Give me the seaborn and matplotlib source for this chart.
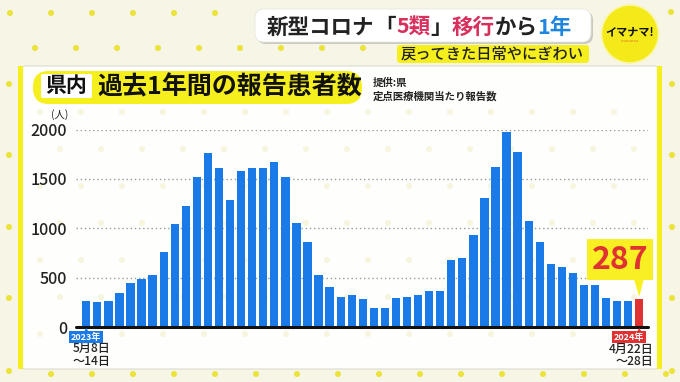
import numpy as np
import pandas as pd
import matplotlib
matplotlib.use("Agg")
import matplotlib.pyplot as plt
import seaborn as sns
from matplotlib.patches import FancyBboxPatch, Rectangle, Ellipse, Circle, Polygon
from matplotlib.transforms import Affine2D, ScaledTranslation

# ---------------- data ----------------
week_start = pd.date_range("2023-05-08", periods=51, freq="7D").strftime("%Y-%m-%d").tolist()
cases = [259, 249, 266, 343, 441, 488, 529, 761, 1044, 1226,
         1522, 1758, 1613, 1283, 1576, 1606, 1609, 1670, 1519, 1057,
         865, 529, 407, 300, 320, 283, 189, 192, 296, 303,
         320, 360, 364, 680, 694, 929, 1310, 1620, 1970, 1774,
         1071, 859, 633, 603, 545, 421, 428, 296, 263, 263,
         287]
kind = ["past"] * (len(cases) - 1) + ["latest"]
y_ticks = [0, 500, 1000, 1500, 2000]
first_label = ["2023年", "5月8日", "～14日"]
last_label = ["2024年", "4月22日", "～28日"]
latest_value_label = "287"

BLUE = "#1a7be8"
RED = "#e03232"
YELLOW = "#f6ef1e"
DARK = "#222222"
PINK = "#d8305c"
TBLUE = "#1f86e0"

sns.set_style("white")
plt.rcParams["font.family"] = ["Noto Sans CJK JP", "DejaVu Sans"]

W, H = 680, 382
fig = plt.figure(figsize=(W / 100, H / 100), dpi=100)
fig.patch.set_facecolor("#f6f5e6")

# ---------------- background / decoration axes (pixel coords, y down) ----------------
bg = fig.add_axes([0, 0, 1, 1], zorder=0)
bg.set_xlim(0, W)
bg.set_ylim(H, 0)
bg.axis("off")

DOT = "#ebe33a"
def dot(x, y, c=DOT, r=3.0):
    bg.add_patch(Circle((x, y), r, color=c, lw=0, zorder=1))

for i in range(6):
    dot(10 + 41 * i, 13)
for i in range(9):
    dot(35 + 41 * i, 48)
dot(671, 12)
for y in [84, 155, 227, 298, 371]:
    dot(9, y)
    dot(672, y)
for i in range(16):
    dot(51 + 41 * i, 374)

# panel
bg.add_patch(FancyBboxPatch((20, 66), 640, 303, boxstyle="round,pad=0,rounding_size=6",
                            fc="#fefefc", ec="#dcdcd0", lw=0.8, zorder=2))
bg.add_patch(Rectangle((17.5, 66), 5, 303, fc=YELLOW, ec="none", zorder=3))
bg.add_patch(Rectangle((657, 66), 5, 303, fc=YELLOW, ec="none", zorder=3))
# faint texture dots in panel
for r_i, yy in enumerate(range(112, 360, 37)):
    off = 0 if r_i % 2 == 0 else 20
    for xx in range(40 + off, 650, 41):
        bg.add_patch(Circle((xx, yy), 3, color="#f7f5de", lw=0, zorder=2.5))

# title box
bg.add_patch(FancyBboxPatch((257, 11), 336, 33, boxstyle="round,pad=0,rounding_size=9",
                            fc="#c9c9c0", ec="none", zorder=4))
bg.add_patch(FancyBboxPatch((255, 9), 336, 33, boxstyle="round,pad=0,rounding_size=9",
                            fc="white", ec="#e8e8e0", lw=0.6, zorder=5))
segs = [("新型コロナ", DARK), ("「", DARK), ("5類", PINK), ("」", DARK),
        ("移行", PINK), ("から", DARK), ("1年", TBLUE)]
t = bg.text(267, 34, segs[0][0], color=segs[0][1], fontsize=15.5, weight="bold",
            ha="left", va="baseline", zorder=6)
for s, c in segs[1:]:
    t = bg.annotate(s, xy=(1, 0), xycoords=t, ha="left", va="bottom", color=c,
                    fontsize=15.5, weight="bold", zorder=6)

# subtitle
bg.add_patch(FancyBboxPatch((397, 45), 192, 18, boxstyle="round,pad=0,rounding_size=3",
                            fc=YELLOW, ec="none", zorder=6))
bg.text(492, 54.5, "戻ってきた日常やにぎわい", color=DARK, fontsize=11, ha="center",
        va="center", weight="medium", zorder=7)

# logo
bg.add_patch(Ellipse((630, 34), 57, 58, fc="#f4ea1a", ec="#fbf6a0", lw=1.2, zorder=6))
bg.text(630, 32, "イマナマ!", fontsize=8, weight="bold", color="#111", ha="center",
        va="center", zorder=7)
bg.text(630, 41, "imanama", fontsize=3, color="#e07a20", ha="center", va="center", zorder=7)

# header pill
bg.add_patch(FancyBboxPatch((33, 71), 329, 33, boxstyle="round,pad=0,rounding_size=16",
                            fc=YELLOW, ec="none", zorder=6))
bg.add_patch(FancyBboxPatch((41, 74), 51, 24, boxstyle="round,pad=0,rounding_size=2",
                            fc="white", ec="none", zorder=7))
bg.text(66.5, 86, "県内", fontsize=15, weight="bold", color="#111", ha="center",
        va="center", zorder=8)
bg.text(97, 87, "過去1年間の報告患者数", fontsize=18, weight="bold", color="#111",
        ha="left", va="center", zorder=8)
bg.text(373, 83, "提供:県", fontsize=7.5, weight="bold", color=DARK, ha="left",
        va="center", zorder=8)
bg.text(373, 96, "定点医療機関当たり報告数", fontsize=7.5, weight="bold", color=DARK,
        ha="left", va="center", zorder=8)
bg.text(60, 115, "(人)", fontsize=7.5, color=DARK, ha="center", va="center", zorder=8)

# ---------------- chart ----------------
ax = fig.add_axes([76 / W, (H - 327) / H, 572 / W, (327 - 129.5) / H], zorder=2)
ax.patch.set_alpha(0)
df = pd.DataFrame({"week": week_start, "cases": cases, "kind": kind})
sns.barplot(data=df, x="week", y="cases", hue="kind",
            palette={"past": BLUE, "latest": RED}, dodge=False, width=0.75,
            saturation=1, linewidth=0, legend=False, ax=ax, zorder=2)
ax.set_xlim(-0.93, len(cases) - 1 + 0.79)
ax.set_ylim(0, 2000)
ax.set_yticks(y_ticks)
ax.set_yticklabels([str(v) for v in y_ticks], fontsize=11.5, color=DARK, weight="medium")
ax.tick_params(axis="y", length=0, pad=6.5)
ax.tick_params(axis="x", length=0, labelbottom=False)
ax.set_xlabel("")
ax.set_ylabel("")
for s in ax.spines.values():
    s.set_visible(False)
ax.yaxis.grid(True, linestyle=(0, (1, 2)), color="#9a9a9a", lw=1)
ax.xaxis.grid(False)
ax.set_axisbelow(True)
ax.axhline(0, color="#111111", lw=2.2, zorder=4, clip_on=False)

n_last = len(cases) - 1

def tri(xd, yd, verts, color):
    tr = Affine2D() + ScaledTranslation(xd, yd, ax.transData)
    ax.add_patch(Polygon(verts, closed=True, transform=tr, fc=color, ec="none",
                         clip_on=False, zorder=6))

LBL = dict(fontsize=8.7, weight="medium", color=DARK, annotation_clip=False,
           textcoords="offset pixels", va="center")

# first week labels
ax.annotate(first_label[0], xy=(0, 0), xytext=(0, -10), textcoords="offset pixels",
            ha="center", va="center", fontsize=6.5, weight="bold", color="white",
            bbox=dict(boxstyle="square,pad=0.18", fc=BLUE, ec="none"),
            annotation_clip=False, zorder=6)
tri(0, 0, [(-3, -6), (3, -6), (0, -1)], BLUE)
ax.annotate(first_label[1], xy=(0, 0), xytext=(-14, -21.5), ha="left", **LBL)
ax.annotate(first_label[2], xy=(0, 0), xytext=(-14, -34.5), ha="left", **LBL)

# last week labels
ax.annotate(last_label[0], xy=(n_last, 0), xytext=(5, -10), textcoords="offset pixels",
            ha="right", va="center", fontsize=6.5, weight="bold", color="white",
            bbox=dict(boxstyle="square,pad=0.18", fc=RED, ec="none"),
            annotation_clip=False, zorder=6)
tri(n_last, 0, [(-3, -6), (3, -6), (0, -1)], RED)
ax.annotate(last_label[1], xy=(n_last, 0), xytext=(14, -22), ha="right", **LBL)
ax.annotate(last_label[2], xy=(n_last, 0), xytext=(14, -35), ha="right", **LBL)

# latest value callout
ax.annotate(latest_value_label, xy=(n_last, cases[-1]), xytext=(-19, 39),
            textcoords="offset pixels", ha="center", va="center", fontsize=23,
            weight="bold", color=RED,
            bbox=dict(boxstyle="square,pad=0.14", fc="#f8f022", ec="none"),
            annotation_clip=False, zorder=7)
tri(n_last, cases[-1], [(-7, 25), (6, 25), (0, 2)], "#f8f022")

fig.savefig("out.png", dpi=100, facecolor=fig.get_facecolor())
